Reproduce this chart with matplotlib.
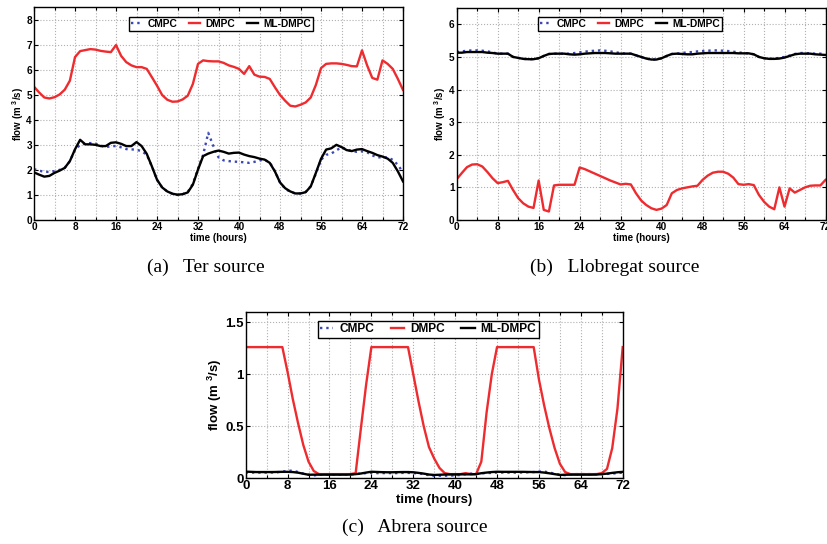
import numpy as np
import matplotlib
matplotlib.use("Agg")
import matplotlib.pyplot as plt
from matplotlib.ticker import MultipleLocator, FuncFormatter

plt.rcParams['font.family'] = ['Liberation Sans', 'DejaVu Sans']
plt.rcParams['mathtext.fontset'] = 'custom'
plt.rcParams['mathtext.rm'] = 'Liberation Sans:bold'
plt.rcParams['mathtext.bf'] = 'Liberation Sans:bold'
plt.rcParams['mathtext.it'] = 'Liberation Sans:bold'

hours = list(range(73))
series_names = ["CMPC", "DMPC", "ML-DMPC"]
captions = ["(a)   Ter source", "(b)   Llobregat source", "(c)   Abrera source"]
x_ticks = [0, 8, 16, 24, 32, 40, 48, 56, 64, 72]

# ---------------- (a) Ter source ----------------
ter_dmpc = [5.32, 5.09, 4.89, 4.85, 4.90, 5.01, 5.20, 5.56, 6.50, 6.74,
            6.78, 6.82, 6.80, 6.75, 6.72, 6.70, 6.98, 6.55, 6.30, 6.17,
            6.10, 6.10, 6.03, 5.70, 5.36, 4.99, 4.80, 4.72, 4.73, 4.81,
            4.96, 5.43, 6.23, 6.37, 6.34, 6.33, 6.33, 6.27, 6.17, 6.11,
            6.03, 5.83, 6.14, 5.80, 5.72, 5.71, 5.63, 5.30, 4.99, 4.76,
            4.56, 4.53, 4.60, 4.69, 4.89, 5.39, 6.06, 6.23, 6.25, 6.25,
            6.23, 6.19, 6.14, 6.13, 6.77, 6.17, 5.67, 5.60, 6.37, 6.23,
            6.03, 5.63, 5.19]
ter_mldmpc = [1.90, 1.81, 1.73, 1.76, 1.88, 1.97, 2.08, 2.35, 2.82, 3.20,
              3.02, 3.02, 3.00, 2.95, 2.95, 3.08, 3.10, 3.04, 2.95, 2.95,
              3.11, 2.95, 2.64, 2.14, 1.61, 1.30, 1.14, 1.05, 1.01, 1.03,
              1.10, 1.41, 2.01, 2.55, 2.65, 2.72, 2.77, 2.72, 2.65, 2.68,
              2.69, 2.61, 2.55, 2.51, 2.45, 2.41, 2.28, 1.94, 1.50, 1.27,
              1.14, 1.06, 1.06, 1.11, 1.34, 1.88, 2.44, 2.81, 2.86, 3.00,
              2.91, 2.79, 2.75, 2.81, 2.83, 2.75, 2.68, 2.59, 2.53, 2.45,
              2.28, 1.94, 1.54]
ter_cmpc = [2.03, 1.97, 1.92, 1.92, 1.95, 2.00, 2.08, 2.35, 2.80, 3.00,
            3.05, 3.07, 3.05, 2.97, 2.90, 2.95, 2.95, 2.90, 2.83, 2.82,
            2.80, 2.75, 2.60, 2.14, 1.60, 1.30, 1.14, 1.05, 1.00, 1.03,
            1.12, 1.45, 2.05, 2.60, 3.48, 2.95, 2.50, 2.38, 2.35, 2.33,
            2.32, 2.30, 2.28, 2.32, 2.38, 2.40, 2.30, 1.95, 1.50, 1.25,
            1.12, 1.06, 1.06, 1.12, 1.35, 1.85, 2.40, 2.60, 2.65, 2.78,
            2.90, 2.82, 2.75, 2.72, 2.74, 2.70, 2.58, 2.50, 2.50, 2.50,
            2.40, 2.20, 1.90]

# ---------------- (b) Llobregat source ----------------
llo_dmpc = [1.25, 1.44, 1.62, 1.70, 1.71, 1.64, 1.47, 1.28, 1.13, 1.16,
            1.20, 0.92, 0.67, 0.51, 0.41, 0.37, 1.21, 0.31, 0.26, 1.06,
            1.08, 1.08, 1.08, 1.08, 1.61, 1.56, 1.49, 1.42, 1.35, 1.28,
            1.21, 1.15, 1.09, 1.11, 1.09, 0.82, 0.60, 0.46, 0.36, 0.31,
            0.35, 0.46, 0.82, 0.92, 0.97, 1.00, 1.03, 1.05, 1.23, 1.36,
            1.45, 1.48, 1.48, 1.42, 1.30, 1.10, 1.08, 1.10, 1.07, 0.77,
            0.56, 0.41, 0.33, 1.00, 0.41, 0.97, 0.84, 0.92, 1.00, 1.05,
            1.06, 1.06, 1.23]
llo_mldmpc = [5.13, 5.13, 5.15, 5.15, 5.15, 5.15, 5.13, 5.12, 5.10, 5.10,
              5.10, 5.00, 4.97, 4.94, 4.93, 4.93, 4.96, 5.03, 5.09, 5.10,
              5.10, 5.10, 5.08, 5.07, 5.08, 5.10, 5.11, 5.12, 5.12, 5.12,
              5.11, 5.10, 5.10, 5.10, 5.10, 5.05, 5.00, 4.95, 4.92, 4.92,
              4.96, 5.03, 5.09, 5.10, 5.09, 5.08, 5.08, 5.10, 5.11, 5.12,
              5.12, 5.12, 5.12, 5.12, 5.12, 5.11, 5.11, 5.11, 5.08, 5.00,
              4.96, 4.94, 4.94, 4.95, 4.98, 5.03, 5.08, 5.10, 5.10, 5.10,
              5.08, 5.07, 5.06]
llo_cmpc = [5.15, 5.17, 5.19, 5.20, 5.20, 5.19, 5.17, 5.14, 5.10, 5.10,
            5.10, 5.00, 4.97, 4.94, 4.93, 4.93, 4.96, 5.03, 5.09, 5.10,
            5.10, 5.10, 5.10, 5.12, 5.14, 5.16, 5.18, 5.19, 5.20, 5.19,
            5.17, 5.14, 5.12, 5.10, 5.10, 5.05, 5.00, 4.95, 4.92, 4.92,
            4.96, 5.03, 5.09, 5.10, 5.12, 5.14, 5.15, 5.17, 5.18, 5.19,
            5.20, 5.20, 5.19, 5.18, 5.16, 5.14, 5.12, 5.11, 5.08, 5.00,
            4.96, 4.94, 4.95, 4.97, 5.00, 5.04, 5.09, 5.12, 5.12, 5.11,
            5.10, 5.10, 5.09]

# ---------------- (c) Abrera source ----------------
abr_dmpc = [1.26, 1.26, 1.26, 1.26, 1.26, 1.26, 1.26, 1.26, 1.02, 0.76,
            0.53, 0.32, 0.16, 0.07, 0.04, 0.04, 0.04, 0.04, 0.04, 0.04,
            0.04, 0.05, 0.48, 0.90, 1.26, 1.26, 1.26, 1.26, 1.26, 1.26,
            1.26, 1.26, 1.00, 0.74, 0.50, 0.30, 0.19, 0.10, 0.05, 0.04,
            0.04, 0.04, 0.05, 0.04, 0.04, 0.16, 0.63, 1.00, 1.26, 1.26,
            1.26, 1.26, 1.26, 1.26, 1.26, 1.26, 0.95, 0.70, 0.48, 0.29,
            0.14, 0.06, 0.04, 0.04, 0.04, 0.04, 0.04, 0.04, 0.05, 0.09,
            0.29, 0.67, 1.26]
abr_mldmpc = [0.064, 0.062, 0.060, 0.060, 0.060, 0.060, 0.061, 0.062, 0.062, 0.060,
              0.054, 0.044, 0.034, 0.035, 0.035, 0.035, 0.035, 0.035, 0.035, 0.035,
              0.036, 0.040, 0.046, 0.055, 0.063, 0.061, 0.059, 0.058, 0.058, 0.059,
              0.060, 0.060, 0.058, 0.052, 0.045, 0.036, 0.032, 0.034, 0.036, 0.037,
              0.037, 0.038, 0.038, 0.038, 0.040, 0.049, 0.055, 0.060, 0.063, 0.062,
              0.062, 0.062, 0.062, 0.062, 0.061, 0.060, 0.060, 0.055, 0.048, 0.040,
              0.032, 0.034, 0.035, 0.035, 0.035, 0.035, 0.035, 0.036, 0.040, 0.045,
              0.052, 0.058, 0.062]
abr_cmpc = [0.055, 0.055, 0.055, 0.055, 0.055, 0.056, 0.058, 0.065, 0.070, 0.075,
            0.060, 0.045, 0.035, 0.028, 0.033, 0.035, 0.035, 0.035, 0.035, 0.036,
            0.038, 0.040, 0.045, 0.050, 0.052, 0.050, 0.050, 0.050, 0.050, 0.050,
            0.052, 0.052, 0.050, 0.048, 0.040, 0.030, 0.025, 0.025, 0.025, 0.026,
            0.028, 0.032, 0.040, 0.045, 0.046, 0.048, 0.050, 0.052, 0.055, 0.055,
            0.055, 0.055, 0.055, 0.056, 0.058, 0.060, 0.065, 0.065, 0.055, 0.045,
            0.035, 0.030, 0.038, 0.040, 0.040, 0.040, 0.040, 0.040, 0.040, 0.042,
            0.045, 0.050, 0.055]

RED = '#ee2b2f'
BLUE = '#3a47b5'

fig = plt.figure(figsize=(8.27, 5.44), dpi=100)
W, H = 827.0, 544.0


def make_axes(l, r, t, b):
    return fig.add_axes([l / W, 1 - b / H, (r - l) / W, (b - t) / H])


def style(ax, ylim, ymajor, tick_fs, label_fs, legend_fs, colsp, leg_x, leg_y, ylpad):
    ax.set_xlim(0, 72)
    ax.set_ylim(*ylim)
    ax.set_xticks(x_ticks)
    ax.xaxis.set_minor_locator(MultipleLocator(4))
    ax.yaxis.set_major_locator(MultipleLocator(ymajor))
    ax.yaxis.set_major_formatter(FuncFormatter(lambda v, p: '%g' % round(v, 3)))
    ax.grid(True, which='both', axis='x', linestyle=':', color='#b0b0b0', linewidth=0.8)
    ax.grid(True, which='major', axis='y', linestyle=':', color='#b0b0b0', linewidth=0.8)
    ax.set_axisbelow(True)
    ax.tick_params(which='both', direction='in', top=True, right=True,
                   labelsize=tick_fs, length=3, width=0.8, pad=1.5)
    ax.tick_params(which='minor', length=2)
    for lab in ax.get_xticklabels() + ax.get_yticklabels():
        lab.set_fontweight('bold')
    for s in ax.spines.values():
        s.set_linewidth(1.0)
    ax.set_xlabel('time (hours)', fontsize=label_fs, fontweight='bold', labelpad=1)
    ax.set_ylabel(r'flow (m $^{3}$/s)', fontsize=label_fs, fontweight='bold', labelpad=ylpad)
    leg = ax.legend(loc='upper center', bbox_to_anchor=(leg_x, leg_y), ncol=3,
                    frameon=True, fancybox=False, framealpha=1, edgecolor='black',
                    prop={'weight': 'bold', 'size': legend_fs}, handlelength=1.1,
                    handletextpad=0.5, columnspacing=colsp, borderpad=0.2,
                    borderaxespad=0.0)
    leg.get_frame().set_linewidth(1.0)


def draw(ax, cmpc, dmpc, ml):
    ax.plot(hours, cmpc, linestyle=':', color=BLUE, linewidth=1.7, label=series_names[0])
    ax.plot(hours, dmpc, linestyle='-', color=RED, linewidth=1.7, label=series_names[1])
    ax.plot(hours, ml, linestyle='-', color='black', linewidth=1.7, label=series_names[2])


ax_a = make_axes(34, 403, 7, 220)
draw(ax_a, ter_cmpc, ter_dmpc, ter_mldmpc)
style(ax_a, (0, 8.5), 1, tick_fs=7.2, label_fs=7, legend_fs=7.4, colsp=1.1,
      leg_x=0.507, leg_y=0.953, ylpad=0.5)

ax_b = make_axes(456.7, 825.5, 8, 220)
draw(ax_b, llo_cmpc, llo_dmpc, llo_mldmpc)
style(ax_b, (0, 6.5), 1, tick_fs=7.2, label_fs=7, legend_fs=7.4, colsp=1.1,
      leg_x=0.47, leg_y=0.958, ylpad=0.5)

ax_c = make_axes(245.7, 622.7, 311.7, 478.3)
draw(ax_c, abr_cmpc, abr_dmpc, abr_mldmpc)
style(ax_c, (0, 1.6), 0.5, tick_fs=9.5, label_fs=9.5, legend_fs=8.6, colsp=1.4,
      leg_x=0.484, leg_y=0.945, ylpad=0.5)

cap_kw = dict(family=['Liberation Serif', 'DejaVu Serif'], fontsize=14, ha='center', va='center')
fig.text(205.5 / W, 1 - 267 / H, captions[0], **cap_kw)
fig.text(615 / W, 1 - 267 / H, captions[1], **cap_kw)
fig.text(414.5 / W, 1 - 527 / H, captions[2], **cap_kw)

fig.savefig('out.png', dpi=100)
